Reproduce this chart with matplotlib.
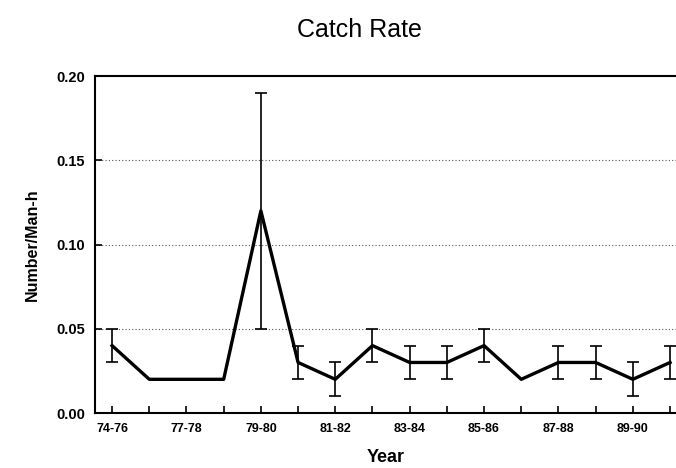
import numpy as np
import matplotlib
matplotlib.use("Agg")
import matplotlib.pyplot as plt

plt.rcParams['font.family'] = ['Liberation Sans', 'DejaVu Sans']

# catch rate by season, with error bar limits (nan = no bar)
rate = [0.04, 0.02, 0.02, 0.02, 0.12, 0.03, 0.02, 0.04,
        0.03, 0.03, 0.04, 0.02, 0.03, 0.03, 0.02, 0.03]
low = [0.03, np.nan, np.nan, np.nan, 0.05, 0.02, 0.01, 0.03,
       0.02, 0.02, 0.03, np.nan, 0.02, 0.02, 0.01, 0.02]
high = [0.05, np.nan, np.nan, np.nan, 0.19, 0.04, 0.03, 0.05,
        0.04, 0.04, 0.05, np.nan, 0.04, 0.04, 0.03, 0.04]
labels = ["74-76", "", "77-78", "", "79-80", "", "81-82", "",
          "83-84", "", "85-86", "", "87-88", "", "89-90", ""]
yticks = [0.00, 0.05, 0.10, 0.15, 0.20]

x = np.arange(len(rate))
rate = np.array(rate)
low = np.array(low)
high = np.array(high)

fig = plt.figure(figsize=(6.76, 4.68), dpi=100)
ax = fig.add_axes([0.1405, 0.1175, 0.8595, 0.72])

for v in yticks[1:-1]:
    ax.axhline(v, color="#555555", lw=0.8, ls=(0, (1, 2)), zorder=0)

ax.plot(x, rate, color="black", lw=2.4, zorder=3)
has = ~np.isnan(low)
ax.errorbar(x[has], rate[has],
            yerr=[rate[has] - low[has], high[has] - rate[has]],
            fmt="none", ecolor="black", elinewidth=1.2, capsize=4,
            capthick=1.2, zorder=2)

ax.set_xlim(-0.46, 15.16)
ax.set_ylim(0, 0.20)
ax.set_xticks(x)
ax.set_xticklabels(labels, fontsize=9, fontweight="bold")
ax.set_yticks(yticks)
ax.set_yticklabels(["%.2f" % v for v in yticks], fontsize=10.5, fontweight="bold")
ax.tick_params(direction="in", length=5, width=1.2)
ax.tick_params(axis="x", pad=7)
ax.tick_params(axis="y", pad=7)
ax.spines["right"].set_visible(False)
for s in ["left", "bottom", "top"]:
    ax.spines[s].set_linewidth(1.5)

ax.set_xlabel("Year", fontsize=13, fontweight="bold", labelpad=10)
ax.set_ylabel("Number/Man-h", fontsize=11.5, fontweight="bold", labelpad=12)
fig.text(0.532, 0.936, "Catch Rate", ha="center", va="center", fontsize=18)

fig.savefig("out.png", dpi=100)
